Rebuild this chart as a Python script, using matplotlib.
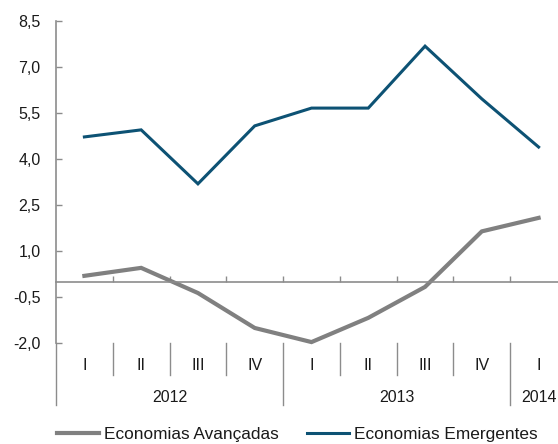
import matplotlib
matplotlib.use("Agg")
import matplotlib.pyplot as plt
import numpy as np
from matplotlib.ticker import FuncFormatter

plt.rcParams["font.family"] = ["Liberation Sans", "DejaVu Sans"]

quarters = ["I", "II", "III", "IV", "I", "II", "III", "IV", "I"]
years = ["2012", "2013", "2014"]
year_spans = [(0, 4), (4, 8), (8, 9)]

avancadas = [0.19, 0.45, -0.37, -1.51, -1.97, -1.18, -0.17, 1.64, 2.08]
emergentes = [4.72, 4.95, 3.19, 5.08, 5.66, 5.66, 7.68, 5.96, 4.39]

yticks = [-2.0, -0.5, 1.0, 2.5, 4.0, 5.5, 7.0, 8.5]

GRAY = "#808080"
BLUE = "#0D5274"
TEXT = "#1a1a1a"
AXIS = "#8c8c8c"
FS = 11.5

W, H = 558, 444
fig = plt.figure(figsize=(W / 100, H / 100), dpi=100)
ax = fig.add_axes([56 / W, 101 / H, 511 / W, 322 / H])

x = np.arange(len(quarters)) + 0.5
ax.plot(x, avancadas, color=GRAY, lw=3.0, solid_joinstyle="miter", label="Economias Avançadas", clip_on=False)
ax.plot(x, emergentes, color=BLUE, lw=2.2, solid_joinstyle="miter", label="Economias Emergentes", clip_on=False)

ax.set_xlim(0, len(quarters))
ax.set_ylim(-2.0, 8.5)
ax.set_yticks(yticks)
ax.yaxis.set_major_formatter(FuncFormatter(lambda v, p: f"{v:.1f}".replace(".", ",")))
ax.tick_params(axis="y", direction="in", length=4, width=1, color=AXIS, pad=11,
               labelsize=FS, labelcolor=TEXT)

for s in ["top", "right"]:
    ax.spines[s].set_visible(False)
ax.spines["left"].set_color(AXIS)
ax.spines["left"].set_linewidth(1.2)
ax.spines["bottom"].set_position(("data", 0))
ax.spines["bottom"].set_color(AXIS)
ax.spines["bottom"].set_linewidth(1.2)
ax.set_xticks(np.arange(1, len(quarters) + 1))
ax.set_xticklabels([])
ax.tick_params(axis="x", direction="in", length=4, width=1, color=AXIS)

# two-level category labels below the plot
trans = ax.get_xaxis_transform()
short_bot, long_bot = -0.0994, -0.1925
year_starts = {a for a, b in year_spans}
for i in range(len(quarters)):
    bot = long_bot if i in year_starts else short_bot
    ax.plot([i, i], [0, bot], transform=trans, color=AXIS, lw=1, clip_on=False)
    ax.text(i + 0.5, -0.0714, quarters[i], transform=trans, ha="center", va="center",
            fontsize=FS, color=TEXT)
for (a, b), yr in zip(year_spans, years):
    ax.text((a + b) / 2, -0.170, yr, transform=trans, ha="center", va="center",
            fontsize=FS, color=TEXT)

fig.legend(loc="center left", bbox_to_anchor=(57 / W, 10 / H), ncol=2, frameon=False,
           fontsize=12.4, handlelength=2.45, handletextpad=0.3, columnspacing=1.6,
           borderpad=0, borderaxespad=0, labelcolor=TEXT)

fig.savefig("out.png", dpi=100)
